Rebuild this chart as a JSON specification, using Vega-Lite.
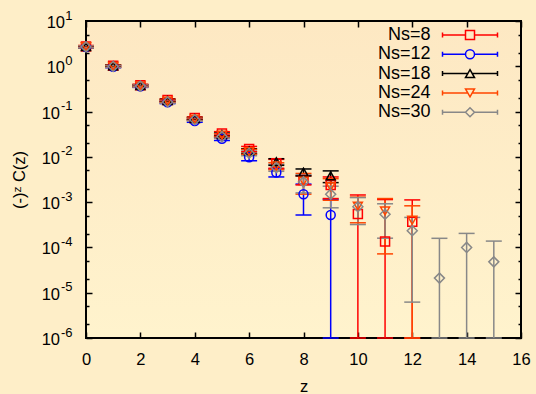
{
  "$schema": "https://vega.github.io/schema/vega-lite/v6.json",
  "width": 435,
  "height": 317,
  "autosize": {"type": "none"},
  "padding": {"left": 86, "top": 21, "right": 15, "bottom": 56},
  "background": "#FEEEC8",
  "config": {
    "view": {
      "stroke": "#000000",
      "strokeWidth": 2,
      "fill": {
        "gradient": "linear",
        "x1": 0, "y1": 0, "x2": 0, "y2": 1,
        "stops": [
          {"offset": 0, "color": "#FDE8C3"},
          {"offset": 1, "color": "#FFF3CD"}
        ]
      }
    },
    "point": {"opacity": 1},
    "axis": {
      "domain": false,
      "grid": false,
      "tickColor": "#000000",
      "tickWidth": 1.5,
      "labelFont": "Liberation Sans",
      "labelFontSize": 16.5,
      "labelColor": "#000000",
      "labelFlush": false,
      "labelOverlap": false,
      "titleFont": "Liberation Sans",
      "titleFontSize": 16.5,
      "titleFontWeight": "normal",
      "titleColor": "#000000"
    },
    "legend": {
      "orient": "none",
      "legendX": 375,
      "legendY": 5,
      "padding": 0,
      "labelAlign": "right",
      "labelOffset": -48.5,
      "labelFont": "Liberation Sans",
      "labelFontSize": 18,
      "labelColor": "#000000",
      "symbolSize": 81,
      "symbolStrokeWidth": 1.5,
      "symbolOpacity": 1,
      "rowPadding": 1.3
    }
  },
  "datasets": {
    "corr": [
      {"series": "Ns=8", "z": 0, "C": 2.75, "lo": 2.62, "hi": 2.88},
      {"series": "Ns=8", "z": 1, "C": 1.03, "lo": 0.98, "hi": 1.08},
      {"series": "Ns=8", "z": 2, "C": 0.38, "lo": 0.36, "hi": 0.40},
      {"series": "Ns=8", "z": 3, "C": 0.18, "lo": 0.169, "hi": 0.191},
      {"series": "Ns=8", "z": 4, "C": 0.072, "lo": 0.0677, "hi": 0.0763},
      {"series": "Ns=8", "z": 5, "C": 0.033, "lo": 0.030, "hi": 0.036},
      {"series": "Ns=8", "z": 6, "C": 0.015, "lo": 0.013, "hi": 0.017},
      {"series": "Ns=8", "z": 7, "C": 0.0072, "lo": 0.0056, "hi": 0.0088},
      {"series": "Ns=8", "z": 8, "C": 0.0031, "lo": 0.0024, "hi": 0.0038},
      {"series": "Ns=8", "z": 9, "C": 0.0024, "lo": 0.0012, "hi": 0.0036},
      {"series": "Ns=8", "z": 10, "C": 0.00055, "lo": 1e-9, "hi": 0.00144},
      {"series": "Ns=8", "z": 11, "C": 0.000135, "lo": 1e-9, "hi": 0.00114},
      {"series": "Ns=8", "z": 12, "C": 0.00037, "lo": 1e-9, "hi": 0.00112},

      {"series": "Ns=12", "z": 0, "C": 2.65, "lo": 2.52, "hi": 2.78},
      {"series": "Ns=12", "z": 1, "C": 0.98, "lo": 0.93, "hi": 1.03},
      {"series": "Ns=12", "z": 2, "C": 0.36, "lo": 0.342, "hi": 0.378},
      {"series": "Ns=12", "z": 3, "C": 0.16, "lo": 0.150, "hi": 0.170},
      {"series": "Ns=12", "z": 4, "C": 0.062, "lo": 0.058, "hi": 0.066},
      {"series": "Ns=12", "z": 5, "C": 0.025, "lo": 0.023, "hi": 0.027},
      {"series": "Ns=12", "z": 6, "C": 0.0098, "lo": 0.0082, "hi": 0.0114},
      {"series": "Ns=12", "z": 7, "C": 0.0045, "lo": 0.0036, "hi": 0.0054},
      {"series": "Ns=12", "z": 8, "C": 0.0015, "lo": 0.00052, "hi": 0.0025},
      {"series": "Ns=12", "z": 9, "C": 0.00052, "lo": 1e-9, "hi": 0.00116},

      {"series": "Ns=18", "z": 0, "C": 2.72, "lo": 2.60, "hi": 2.84},
      {"series": "Ns=18", "z": 1, "C": 1.02, "lo": 0.97, "hi": 1.07},
      {"series": "Ns=18", "z": 2, "C": 0.375, "lo": 0.357, "hi": 0.393},
      {"series": "Ns=18", "z": 3, "C": 0.175, "lo": 0.164, "hi": 0.186},
      {"series": "Ns=18", "z": 4, "C": 0.070, "lo": 0.066, "hi": 0.074},
      {"series": "Ns=18", "z": 5, "C": 0.031, "lo": 0.0285, "hi": 0.0335},
      {"series": "Ns=18", "z": 6, "C": 0.0135, "lo": 0.0119, "hi": 0.0151},
      {"series": "Ns=18", "z": 7, "C": 0.0078, "lo": 0.0065, "hi": 0.0091},
      {"series": "Ns=18", "z": 8, "C": 0.0046, "lo": 0.0038, "hi": 0.0054},
      {"series": "Ns=18", "z": 9, "C": 0.0038, "lo": 0.0027, "hi": 0.0049},

      {"series": "Ns=24", "z": 0, "C": 2.70, "lo": 2.57, "hi": 2.83},
      {"series": "Ns=24", "z": 1, "C": 1.00, "lo": 0.95, "hi": 1.05},
      {"series": "Ns=24", "z": 2, "C": 0.37, "lo": 0.352, "hi": 0.388},
      {"series": "Ns=24", "z": 3, "C": 0.17, "lo": 0.160, "hi": 0.180},
      {"series": "Ns=24", "z": 4, "C": 0.068, "lo": 0.064, "hi": 0.072},
      {"series": "Ns=24", "z": 5, "C": 0.030, "lo": 0.0276, "hi": 0.0324},
      {"series": "Ns=24", "z": 6, "C": 0.013, "lo": 0.0114, "hi": 0.0146},
      {"series": "Ns=24", "z": 7, "C": 0.0063, "lo": 0.0052, "hi": 0.0074},
      {"series": "Ns=24", "z": 8, "C": 0.0029, "lo": 0.0015, "hi": 0.0043},
      {"series": "Ns=24", "z": 9, "C": 0.0022, "lo": 0.0011, "hi": 0.0033},
      {"series": "Ns=24", "z": 10, "C": 0.00082, "lo": 0.00035, "hi": 0.00129},
      {"series": "Ns=24", "z": 11, "C": 0.00064, "lo": 0.000072, "hi": 0.0012},
      {"series": "Ns=24", "z": 12, "C": 0.00040, "lo": 1e-9, "hi": 0.00083},

      {"series": "Ns=30", "z": 0, "C": 2.68, "lo": 2.55, "hi": 2.81},
      {"series": "Ns=30", "z": 1, "C": 0.99, "lo": 0.94, "hi": 1.04},
      {"series": "Ns=30", "z": 2, "C": 0.365, "lo": 0.347, "hi": 0.383},
      {"series": "Ns=30", "z": 3, "C": 0.163, "lo": 0.153, "hi": 0.173},
      {"series": "Ns=30", "z": 4, "C": 0.066, "lo": 0.062, "hi": 0.070},
      {"series": "Ns=30", "z": 5, "C": 0.028, "lo": 0.0258, "hi": 0.0302},
      {"series": "Ns=30", "z": 6, "C": 0.012, "lo": 0.0106, "hi": 0.0134},
      {"series": "Ns=30", "z": 7, "C": 0.0058, "lo": 0.0048, "hi": 0.0068},
      {"series": "Ns=30", "z": 8, "C": 0.0028, "lo": 0.0016, "hi": 0.0040},
      {"series": "Ns=30", "z": 9, "C": 0.0015, "lo": 0.00075, "hi": 0.00225},
      {"series": "Ns=30", "z": 10, "C": 0.00079, "lo": 0.00032, "hi": 0.00126},
      {"series": "Ns=30", "z": 11, "C": 0.00054, "lo": 0.00016, "hi": 0.00092},
      {"series": "Ns=30", "z": 12, "C": 0.000234, "lo": 0.0000062, "hi": 0.00046},
      {"series": "Ns=30", "z": 13, "C": 0.000021, "lo": 1e-9, "hi": 0.000159},
      {"series": "Ns=30", "z": 14, "C": 0.0001, "lo": 1e-9, "hi": 0.000204},
      {"series": "Ns=30", "z": 15, "C": 0.000048, "lo": 1e-9, "hi": 0.000138}
    ]
  },
  "data": {"name": "corr"},
  "resolve": {"axis": {"x": "independent", "y": "independent"}},
  "layer": [
    {
      "transform": [{"filter": "datum.z === 0"}],
      "mark": {"type": "point", "size": 0, "strokeWidth": 1.5, "filled": false, "opacity": 1},
      "encoding": {
        "x": {
          "field": "z", "type": "quantitative", "axis": null,
          "scale": {"domain": [0, 16], "nice": false, "zero": false}
        },
        "y": {
          "field": "C", "type": "quantitative", "axis": null,
          "scale": {"type": "log", "domain": [1e-6, 10], "nice": false, "clamp": true}
        },
        "color": {
          "field": "series", "type": "nominal", "title": null,
          "scale": {
            "domain": ["Ns=8", "Ns=12", "Ns=18", "Ns=24", "Ns=30"],
            "range": ["#FF0000", "#0000FF", "#000000", "#FF4500", "#888888"]
          }
        },
        "shape": {
          "field": "series", "type": "nominal", "title": null,
          "scale": {
            "domain": ["Ns=8", "Ns=12", "Ns=18", "Ns=24", "Ns=30"],
            "range": [
              "M-6.11,0H-1M1,0H6.11M-6.11,-0.56V0.56M6.11,-0.56V0.56M-1,-1H1V1H-1Z",
              "M-6.11,0H-1M1,0H6.11M-6.11,-0.56V0.56M6.11,-0.56V0.56M-1,0A1,1,0,1,1,1,0A1,1,0,1,1,-1,0Z",
              "M-6.11,0H-0.5M0.5,0H6.11M-6.11,-0.56V0.56M6.11,-0.56V0.56M0,-0.87L1,0.87H-1Z",
              "M-6.11,0H-0.5M0.5,0H6.11M-6.11,-0.56V0.56M6.11,-0.56V0.56M0,0.87L1,-0.87H-1Z",
              "M-6.11,0H-1M1,0H6.11M-6.11,-0.56V0.56M6.11,-0.56V0.56M0,-1L1,0L0,1L-1,0Z"
            ]
          }
        }
      }
    },
    {
      "mark": {"type": "rule", "strokeWidth": 1.5},
      "encoding": {
        "x": {
          "field": "z", "type": "quantitative",
          "axis": {
            "orient": "bottom",
            "values": [0, 2, 4, 6, 8, 10, 12, 14, 16],
            "tickSize": -6,
            "labelPadding": 19,
            "title": "z",
            "titleY": 53,
            "titleBaseline": "alphabetic"
          }
        },
        "y": {
          "field": "lo", "type": "quantitative",
          "axis": {
            "orient": "left",
            "values": [1e-6, 1e-5, 1e-4, 1e-3, 1e-2, 1e-1],
            "tickSize": -6,
            "labelPadding": 32.5,
            "labelAlign": "right",
            "labelBaseline": "middle",
            "labelOffset": 1.5,
            "labelExpr": "'10'",
            "title": "(-)ᶻ C(z)",
            "titleX": -67,
            "titleY": 158.5,
            "titleAngle": -90,
            "titleAlign": "center",
            "titleBaseline": "middle"
          }
        },
        "y2": {"field": "hi"},
        "color": {"field": "series", "type": "nominal", "title": null}
      }
    },
    {
      "mark": {"type": "rule", "strokeWidth": 1.5, "xOffset": -8, "x2Offset": 8},
      "encoding": {
        "x": {
          "field": "z", "type": "quantitative",
          "axis": {
            "orient": "top",
            "values": [0, 2, 4, 6, 8, 10, 12, 14, 16],
            "tickSize": -6,
            "labels": false,
            "title": null
          }
        },
        "x2": {"field": "z"},
        "y": {
          "field": "hi", "type": "quantitative",
          "axis": {
            "orient": "right",
            "values": [1e-6, 1e-5, 1e-4, 1e-3, 1e-2, 1e-1, 1, 10],
            "tickSize": -6,
            "labels": false,
            "title": null
          }
        },
        "color": {"field": "series", "type": "nominal", "title": null}
      }
    },
    {
      "mark": {"type": "rule", "strokeWidth": 1.5, "xOffset": -8, "x2Offset": 8},
      "encoding": {
        "x": {"field": "z", "type": "quantitative", "axis": null},
        "x2": {"field": "z"},
        "y": {
          "field": "lo", "type": "quantitative",
          "axis": {
            "orient": "left",
            "values": [2e-6, 5e-6, 2e-5, 5e-5, 2e-4, 5e-4, 2e-3, 5e-3, 0.02, 0.05, 0.2, 0.5, 2, 5],
            "tickSize": -3,
            "labels": false,
            "title": null
          }
        },
        "color": {"field": "series", "type": "nominal", "title": null}
      }
    },
    {
      "transform": [{"filter": "datum.series === 'Ns=8'"}],
      "mark": {"type": "point", "shape": "square", "size": 81, "strokeWidth": 1.5, "filled": false, "opacity": 1},
      "encoding": {
        "x": {"field": "z", "type": "quantitative", "axis": null},
        "y": {
          "field": "C", "type": "quantitative",
          "axis": {
            "orient": "right",
            "values": [2e-6, 5e-6, 2e-5, 5e-5, 2e-4, 5e-4, 2e-3, 5e-3, 0.02, 0.05, 0.2, 0.5, 2, 5],
            "tickSize": -3,
            "labels": false,
            "title": null
          }
        },
        "color": {"field": "series", "type": "nominal", "title": null}
      }
    },
    {
      "transform": [{"filter": "datum.series === 'Ns=12'"}],
      "mark": {"type": "point", "shape": "circle", "size": 81, "strokeWidth": 1.5, "filled": false, "opacity": 1},
      "encoding": {
        "x": {"field": "z", "type": "quantitative", "axis": null},
        "y": {
          "field": "C", "type": "quantitative",
          "axis": {
            "orient": "left",
            "values": [1e-6, 1e-5, 1e-4, 1e-3, 1e-2, 1e-1, 1, 10],
            "ticks": false,
            "tickSize": 0,
            "labelPadding": 14,
            "labelFontSize": 13,
            "labelAlign": "right",
            "labelBaseline": "middle",
            "labelOffset": -6,
            "labelExpr": "toString(round(log(datum.value) / LN10))",
            "title": null
          }
        },
        "color": {"field": "series", "type": "nominal", "title": null}
      }
    },
    {
      "transform": [{"filter": "datum.series === 'Ns=18'"}],
      "mark": {"type": "point", "shape": "triangle-up", "size": 81, "strokeWidth": 1.5, "filled": false, "opacity": 1},
      "encoding": {
        "x": {"field": "z", "type": "quantitative", "axis": null},
        "y": {
          "field": "C", "type": "quantitative",
          "axis": {
            "orient": "left",
            "values": [1, 10],
            "ticks": false,
            "tickSize": 0,
            "labelPadding": 21.5,
            "labelAlign": "right",
            "labelBaseline": "middle",
            "labelOffset": 1.5,
            "labelExpr": "'10'",
            "title": null
          }
        },
        "color": {"field": "series", "type": "nominal", "title": null}
      }
    },
    {
      "transform": [{"filter": "datum.series === 'Ns=24'"}],
      "mark": {"type": "point", "shape": "triangle-down", "size": 81, "strokeWidth": 1.5, "filled": false, "opacity": 1},
      "encoding": {
        "x": {"field": "z", "type": "quantitative", "axis": null},
        "y": {"field": "C", "type": "quantitative", "axis": null},
        "color": {"field": "series", "type": "nominal", "title": null}
      }
    },
    {
      "transform": [{"filter": "datum.series === 'Ns=30'"}],
      "mark": {"type": "point", "shape": "diamond", "size": 100, "strokeWidth": 1.5, "filled": false, "opacity": 1},
      "encoding": {
        "x": {"field": "z", "type": "quantitative", "axis": null},
        "y": {"field": "C", "type": "quantitative", "axis": null},
        "color": {"field": "series", "type": "nominal", "title": null}
      }
    }
  ]
}
